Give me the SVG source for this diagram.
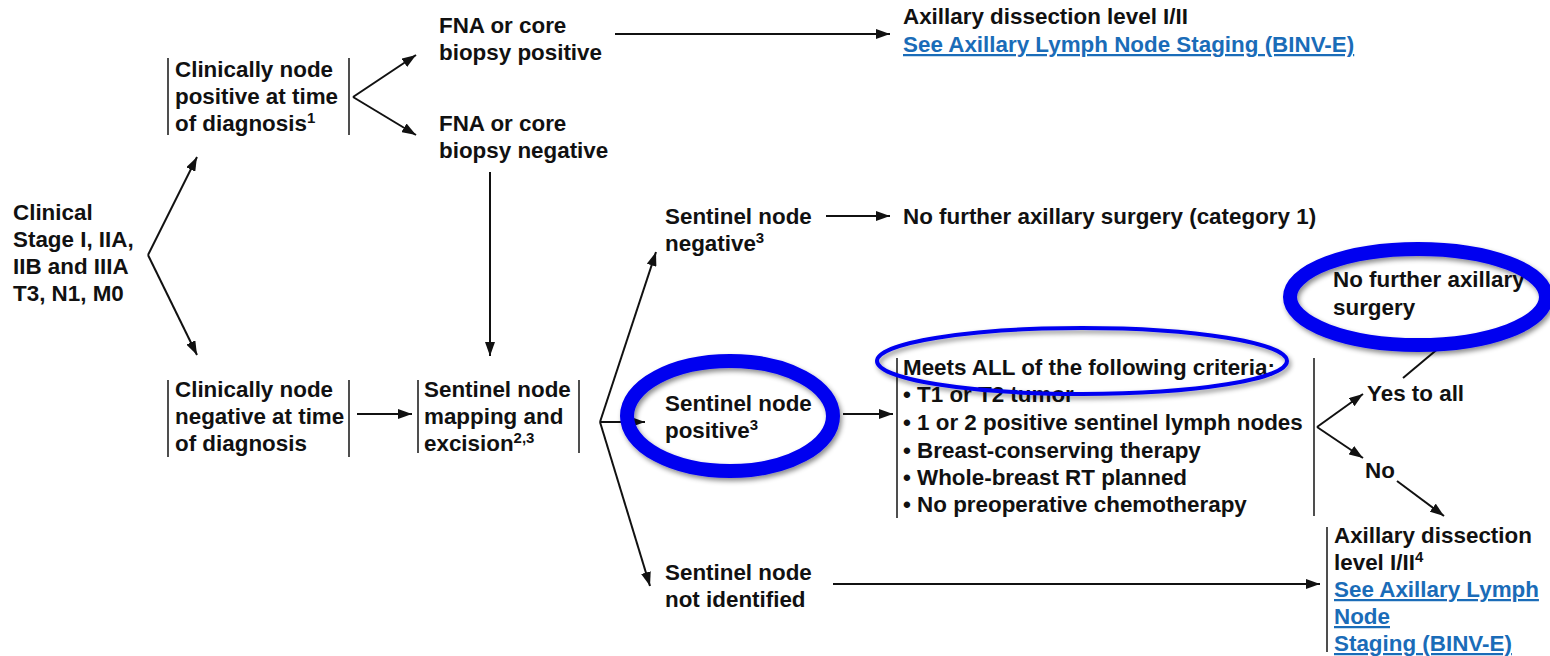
<svg xmlns="http://www.w3.org/2000/svg" width="1550" height="656" viewBox="0 0 1550 656">
<defs>
<style>
text{font-family:"Liberation Sans",Arial,sans-serif;font-weight:bold;font-size:22.4px;fill:#111;}
.lnk{fill:#1a6cb8;text-decoration:underline;}
.sup{font-size:15px;}
.br{stroke:#222;stroke-width:1.6;fill:none;}
.cn{stroke:#111;stroke-width:2;fill:none;marker-end:url(#ah);}
.ln{stroke:#111;stroke-width:2;fill:none;}
.hl{fill:none;stroke:#0000f0;filter:url(#sh);}
</style>
<marker id="ah" viewBox="0 0 14 10" refX="14" refY="5" markerWidth="14" markerHeight="10" markerUnits="userSpaceOnUse" orient="auto">
<path d="M0,0 L14,5 L0,10 Z" fill="#111"/>
</marker>
<filter id="sh" x="-20%" y="-30%" width="140%" height="160%">
<feDropShadow dx="2" dy="3" stdDeviation="2.5" flood-color="#000" flood-opacity="0.45"/>
</filter>
</defs>
<rect width="1550" height="656" fill="#fff"/>

<g id="connectors">
<line class="cn" x1="148" y1="255" x2="197" y2="157"/>
<line class="cn" x1="148" y1="255" x2="197" y2="355"/>
<line class="cn" x1="353" y1="97" x2="416" y2="55"/>
<line class="cn" x1="353" y1="97" x2="416" y2="135"/>
<line class="cn" x1="615" y1="34" x2="890" y2="34"/>
<line class="cn" x1="490" y1="172" x2="490" y2="356"/>
<line class="cn" x1="357" y1="414" x2="412" y2="414"/>
<line class="cn" x1="600" y1="422" x2="656" y2="252"/>
<line class="cn" x1="600" y1="422" x2="645" y2="422"/>
<line class="cn" x1="600" y1="422" x2="650" y2="586"/>
<line class="cn" x1="826" y1="216" x2="890" y2="216"/>
<line class="cn" x1="843" y1="414" x2="893" y2="414"/>
<line class="cn" x1="1317" y1="427" x2="1363" y2="394"/>
<line class="cn" x1="1317" y1="427" x2="1363" y2="458"/>
<line class="cn" x1="1397" y1="481" x2="1444" y2="516"/>
<line class="cn" x1="833" y1="584" x2="1320" y2="584"/>
<line class="ln" x1="1403" y1="378" x2="1440" y2="347"/>
</g>

<g id="n-clinical">
<text x="13" y="220">Clinical</text>
<text x="13" y="247">Stage I, IIA,</text>
<text x="13" y="274">IIB and IIIA</text>
<text x="13" y="301">T3, N1, M0</text>
</g>

<g id="n-node-positive">
<line class="br" x1="168" y1="58" x2="168" y2="135"/>
<line class="br" x1="349" y1="58" x2="349" y2="135"/>
<text x="175" y="77">Clinically node</text>
<text x="175" y="104">positive at time</text>
<text x="175" y="131">of diagnosis<tspan class="sup" dy="-8">1</tspan></text>
</g>

<g id="n-fna-positive">
<text x="439" y="33">FNA or core</text>
<text x="439" y="60">biopsy positive</text>
</g>

<g id="n-fna-negative">
<text x="439" y="131">FNA or core</text>
<text x="439" y="158">biopsy negative</text>
</g>

<g id="n-axillary-top">
<text x="903" y="24">Axillary dissection level I/II</text>
<text x="903" y="52" class="lnk">See Axillary Lymph Node Staging (BINV-E)</text>
</g>

<g id="n-node-negative">
<line class="br" x1="168" y1="380" x2="168" y2="457"/>
<line class="br" x1="349" y1="380" x2="349" y2="457"/>
<text x="175" y="397">Clinically node</text>
<text x="175" y="424">negative at time</text>
<text x="175" y="451">of diagnosis</text>
</g>

<g id="n-sentinel-mapping">
<line class="br" x1="418" y1="380" x2="418" y2="453"/>
<line class="br" x1="579" y1="380" x2="579" y2="453"/>
<text x="424" y="397">Sentinel node</text>
<text x="424" y="424">mapping and</text>
<text x="424" y="451">excision<tspan class="sup" dy="-8">2,3</tspan></text>
</g>

<g id="n-sentinel-negative">
<text x="665" y="224">Sentinel node</text>
<text x="665" y="251">negative<tspan class="sup" dy="-8">3</tspan></text>
</g>

<g id="n-no-further-cat1">
<text x="903" y="224">No further axillary surgery (category 1)</text>
</g>

<g id="n-sentinel-positive">
<text x="665" y="411">Sentinel node</text>
<text x="665" y="438">positive<tspan class="sup" dy="-8">3</tspan></text>
<ellipse class="hl" cx="730" cy="416" rx="103" ry="55" stroke-width="14"/>
</g>

<g id="n-criteria">
<line class="br" x1="897" y1="358" x2="897" y2="518"/>
<line class="br" x1="1314" y1="358" x2="1314" y2="516"/>
<text x="903" y="375">Meets ALL of the following criteria:</text>
<text x="903" y="402">• T1 or T2 tumor</text>
<text x="903" y="430">• 1 or 2 positive sentinel lymph nodes</text>
<text x="903" y="458">• Breast-conserving therapy</text>
<text x="903" y="485">• Whole-breast RT planned</text>
<text x="903" y="512">• No preoperative chemotherapy</text>
<ellipse class="hl" cx="1082" cy="361" rx="205" ry="33" stroke-width="4"/>
</g>

<g id="n-yes">
<text x="1367" y="401">Yes to all</text>
</g>

<g id="n-no">
<text x="1365" y="478">No</text>
</g>

<g id="n-no-further">
<text x="1333" y="287">No further axillary</text>
<text x="1333" y="315">surgery</text>
<ellipse class="hl" cx="1418" cy="297" rx="128" ry="48" stroke-width="14"/>
</g>

<g id="n-axillary-bottom">
<line class="br" x1="1327" y1="527" x2="1327" y2="652"/>
<text x="1334" y="543">Axillary dissection</text>
<text x="1334" y="570">level I/II<tspan class="sup" dy="-8">4</tspan></text>
<text x="1334" y="597" class="lnk">See Axillary Lymph</text>
<text x="1334" y="624" class="lnk">Node</text>
<text x="1334" y="651" class="lnk">Staging (BINV-E)</text>
</g>

<g id="n-sentinel-not-identified">
<text x="665" y="580">Sentinel node</text>
<text x="665" y="607">not identified</text>
</g>
</svg>
